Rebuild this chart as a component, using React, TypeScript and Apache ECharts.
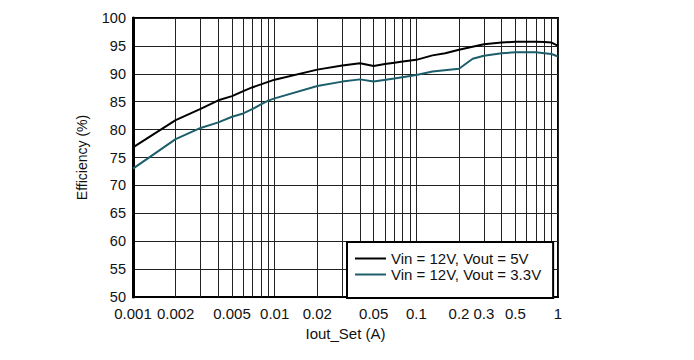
import React, { useEffect, useRef } from 'react';
import * as echarts from 'echarts';

const xLabelValues = [0.001, 0.002, 0.005, 0.01, 0.02, 0.05, 0.1, 0.2, 0.3, 0.5, 1];
const xGridValues = [
  0.002, 0.003, 0.004, 0.005, 0.006, 0.007, 0.008, 0.009,
  0.02, 0.03, 0.04, 0.05, 0.06, 0.07, 0.08, 0.09,
  0.2, 0.3, 0.4, 0.5, 0.6, 0.7, 0.8, 0.9,
];

const seriesNames = ['Vin = 12V, Vout = 5V', 'Vin = 12V, Vout = 3.3V'];

const iout5V = [0.001, 0.002, 0.003, 0.004, 0.005, 0.006, 0.007, 0.008, 0.01, 0.02, 0.03, 0.04, 0.05, 0.06, 0.07, 0.08, 0.1, 0.13, 0.16, 0.2, 0.3, 0.4, 0.5, 0.7, 0.8, 0.9, 0.97, 1];
const eff5V = [76.8, 81.7, 83.7, 85.25, 86.0, 86.9, 87.6, 88.1, 88.95, 90.75, 91.5, 91.9, 91.4, 91.75, 92.0, 92.2, 92.5, 93.3, 93.7, 94.3, 95.3, 95.6, 95.75, 95.75, 95.7, 95.6, 95.2, 95.0];

const iout33V = [0.001, 0.002, 0.003, 0.004, 0.005, 0.006, 0.007, 0.008, 0.009, 0.01, 0.02, 0.03, 0.04, 0.05, 0.07, 0.1, 0.13, 0.2, 0.25, 0.3, 0.4, 0.5, 0.7, 0.8, 0.9, 1];
const eff33V = [73.0, 78.3, 80.3, 81.3, 82.3, 82.9, 83.7, 84.5, 85.2, 85.6, 87.8, 88.6, 89.0, 88.6, 89.15, 89.8, 90.4, 90.9, 92.7, 93.25, 93.7, 93.85, 93.85, 93.7, 93.55, 93.1];

const colors = ['#000000', '#1d5e6b'];
const font = 'Liberation Sans, Arial, sans-serif';

export default function App() {
  const ref = useRef<HTMLDivElement>(null);
  useEffect(() => {
    if (!ref.current) return;
    const chart = echarts.init(ref.current, undefined, { renderer: 'svg' });
    const zip = (xs: number[], ys: number[]) => xs.map((x, i) => [x, ys[i]]);
    chart.setOption({
      animation: false,
      backgroundColor: '#ffffff',
      grid: {
        left: 125, right: 128, top: 10, bottom: 55,
        show: true, borderColor: '#000', borderWidth: 2, containLabel: false,
      },
      legend: {
        orient: 'vertical',
        left: 339, top: 234,
        data: seriesNames.map((n) => ({ name: n, icon: 'rect' })),
        itemWidth: 31, itemHeight: 2, itemGap: 1,
        padding: [9, 12, 16, 8],
        backgroundColor: '#ffffff',
        borderColor: '#000', borderWidth: 2,
        textStyle: { fontSize: 15, fontFamily: font, color: '#111' },
      },
      xAxis: {
        type: 'log', logBase: 10, min: 0.001, max: 1,
        name: 'Iout_Set (A)', nameLocation: 'middle', nameGap: 27,
        nameTextStyle: { fontSize: 15, fontFamily: font, color: '#111' },
        axisLine: { show: true, lineStyle: { color: '#000', width: 2 } },
        axisTick: { show: false },
        axisLabel: {
          customValues: xLabelValues,
          fontSize: 15, fontFamily: font, color: '#111', margin: 9,
          formatter: (v: number) => String(parseFloat(v.toPrecision(3))),
        },
        splitLine: { show: true, lineStyle: { color: '#222', width: 1 } },
      },
      yAxis: {
        type: 'value', min: 50, max: 100, interval: 5,
        name: 'Efficiency (%)', nameLocation: 'middle', nameGap: 44,
        nameTextStyle: { fontSize: 14, fontFamily: font, color: '#111' },
        axisLine: { show: true, lineStyle: { color: '#000', width: 3 } },
        axisTick: { show: false },
        axisLabel: { fontSize: 14.5, fontFamily: font, color: '#111', margin: 7 },
        splitLine: { show: true, lineStyle: { color: '#222', width: 1 } },
      },
      series: [
        {
          name: seriesNames[0], type: 'line', data: zip(iout5V, eff5V),
          symbol: 'none', smooth: false, z: 5,
          lineStyle: { color: colors[0], width: 2 }, itemStyle: { color: colors[0] },
          markLine: {
            silent: true, symbol: 'none', animation: false, precision: 6,
            label: { show: false },
            lineStyle: { color: '#222', width: 1, type: 'solid' },
            data: xGridValues.map((v) => ({ xAxis: v })),
            z: 1,
          },
        },
        {
          name: seriesNames[1], type: 'line', data: zip(iout33V, eff33V),
          symbol: 'none', smooth: false, z: 5,
          lineStyle: { color: colors[1], width: 2 }, itemStyle: { color: colors[1] },
        },
      ],
    });
    return () => chart.dispose();
  }, []);
  return <div ref={ref} style={{ width: 678, height: 344 }} />;
}
